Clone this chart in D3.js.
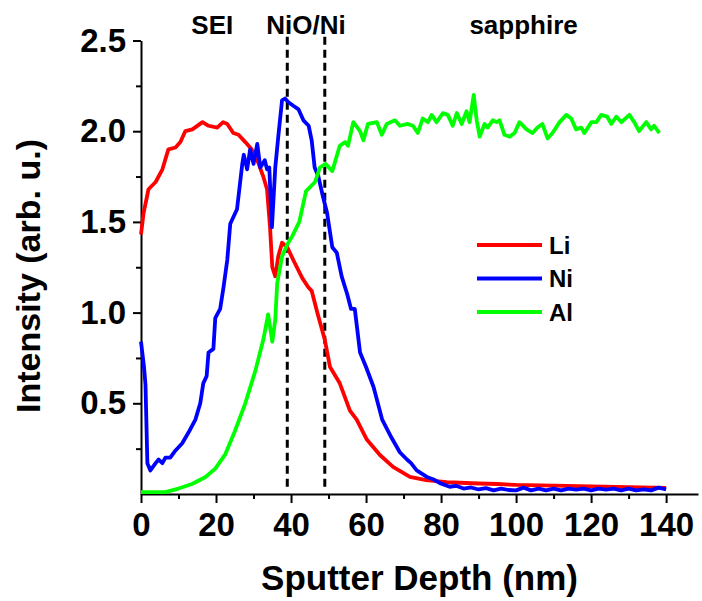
<!DOCTYPE html>
<html>
<head>
<meta charset="utf-8">
<script src="https://cdn.jsdelivr.net/npm/d3@7"></script>
<style>
  body { margin: 0; background: #fff; }
  svg { font-family: "Liberation Sans", Arial, sans-serif; font-weight: bold; }
  .axis text { font-size: 33px; font-weight: bold; fill: #000; }
  .axis path, .axis line { stroke: #000; stroke-width: 2; }
</style>
</head>
<body>
<div id="chart"></div>
<script>
// Li, Ni, Al depth profiles: [depth nm, intensity]
const liData = [[0,1.43],[0.7,1.55],[2,1.68],[3.9,1.72],[5.7,1.79],[7.3,1.9],[9.2,1.91],[10.5,1.94],[11.8,2.0],[13.7,2.01],[16.4,2.05],[18,2.03],[20.3,2.02],[21.9,2.05],[23,2.04],[24.6,1.99],[26,1.98],[27.8,1.94],[29.5,1.9],[31.2,1.83],[32.6,1.75],[33.6,1.68],[34.4,1.47],[35,1.25],[35.8,1.2],[36.6,1.31],[37.6,1.385],[39,1.36],[40.6,1.29],[43,1.19],[44.6,1.14],[45.5,1.12],[47,1.0],[49,0.85],[50.4,0.7],[53,0.61],[55.7,0.46],[57.5,0.41],[60.2,0.3],[63.7,0.215],[67.2,0.15],[71.7,0.094],[76,0.077],[81.5,0.066],[85,0.062],[90,0.058],[95,0.055],[100,0.05],[110,0.046],[120,0.042],[130,0.038],[140,0.034]];

const niData = [[0,0.84],[0.8,0.7],[1.2,0.6],[1.7,0.17],[2.5,0.13],[3.9,0.17],[4.7,0.19],[5.7,0.17],[6.5,0.2],[7.8,0.2],[9.2,0.24],[11,0.28],[12.7,0.34],[14.5,0.41],[15.8,0.5],[16.6,0.61],[17.5,0.65],[18,0.78],[19.3,0.8],[19.8,0.97],[21.1,1.02],[22,1.14],[23,1.29],[23.8,1.49],[25.6,1.57],[27,1.82],[27.4,1.87],[28.3,1.79],[29.1,1.9],[30,1.82],[31,1.93],[31.8,1.8],[33,1.84],[33.6,1.79],[34.2,1.8],[34.9,1.47],[35.8,1.8],[36.6,1.97],[37.6,2.17],[38.4,2.18],[39.3,2.16],[40.6,2.14],[42,2.12],[43.3,2.06],[44.7,2.03],[45.5,1.95],[46.3,1.8],[47.3,1.75],[48.5,1.64],[49.6,1.55],[51,1.36],[52.2,1.33],[53.5,1.2],[55,1.1],[56,1.02],[57,1.02],[58.4,0.78],[60,0.7],[62,0.59],[64.3,0.41],[66.8,0.31],[69,0.23],[70.9,0.19],[72,0.17],[73.5,0.13],[76.2,0.094],[78,0.08],[79.7,0.06],[82.3,0.04],[84,0.045],[86,0.03],[88,0.036],[90,0.025],[92,0.032],[94,0.02],[96,0.03],[98,0.022],[100,0.02],[102,0.035],[104,0.02],[106,0.03],[108,0.02],[110,0.03],[112,0.02],[114,0.03],[116,0.024],[118,0.03],[120,0.02],[122,0.03],[124,0.024],[126,0.03],[128,0.02],[130,0.03],[132,0.02],[134,0.026],[136,0.02],[138,0.035],[140,0.026]];

const alData = [[0,0.01],[6.5,0.01],[10,0.03],[13.6,0.055],[17.2,0.094],[19.8,0.14],[22.5,0.22],[25.1,0.35],[27.8,0.5],[30.5,0.68],[32.6,0.85],[33.9,0.99],[35,0.84],[35.8,0.96],[36.3,1.16],[37.6,1.31],[39.1,1.38],[40.3,1.42],[42.2,1.5],[44,1.67],[46.4,1.72],[47.7,1.8],[49.2,1.82],[51,1.78],[53,1.92],[54.4,1.94],[55.2,1.92],[56.6,2.05],[58.4,2.0],[59.3,1.95],[60.5,2.04],[62.9,2.05],[64.2,1.98],[65.5,2.04],[67.7,2.06],[69,2.03],[71.1,2.04],[72.5,2.03],[73.8,1.99],[75.1,2.07],[76.5,2.05],[77.5,2.09],[78.8,2.05],[80.5,2.1],[81.8,2.09],[83.1,2.03],[84.2,2.1],[85.5,2.04],[86.8,2.11],[87.6,2.05],[88.7,2.2],[89.5,2.06],[90.3,1.97],[91.6,2.04],[92.4,2.02],[93.8,2.06],[94.8,2.05],[95.6,2.06],[96.9,1.98],[98.3,1.97],[99.6,1.99],[100.9,2.05],[102.8,2.01],[104.4,1.99],[105.7,2.02],[107,2.04],[108.4,1.96],[109.7,1.99],[111.6,2.05],[113.4,2.09],[114.7,2.07],[116,2.01],[117.4,2.02],[118.2,1.99],[120.1,2.05],[121.4,2.05],[122.7,2.09],[124.3,2.08],[125.4,2.04],[126.7,2.08],[128.1,2.05],[130.2,2.09],[131.5,2.05],[132.8,2.0],[134.7,2.05],[136,2.01],[136.8,2.03],[138.2,1.99]];

const seriesNames = ["Li", "Ni", "Al"];
const seriesColors = ["#ff0000", "#0000ff", "#00ff00"];
const interfaces = [39, 49];
const regionLabels = [{ text: "SEI", x: 19 }, { text: "NiO/Ni", x: 44 }, { text: "sapphire", x: 102 }];
const xMajor = [0, 20, 40, 60, 80, 100, 120, 140];
const xMinor = [10, 30, 50, 70, 90, 110, 130];
const yMajor = [0.5, 1.0, 1.5, 2.0, 2.5];
const yMinor = [0.25, 0.75, 1.25, 1.75, 2.25];

const W = 702, H = 601;
const svg = d3.select("#chart").append("svg").attr("width", W).attr("height", H);

const x = d3.scaleLinear().domain([0, 148.5]).range([141, 698]);
const y = d3.scaleLinear().domain([0, 2.5]).range([494, 40.5]);

// Minor ticks
svg.append("g").attr("class", "axis")
  .attr("transform", `translate(0,${y(0)})`)
  .call(d3.axisBottom(x).tickValues(xMinor).tickSize(5).tickFormat(""))
  .call(g => g.select(".domain").remove());
svg.append("g").attr("class", "axis")
  .attr("transform", `translate(${x(0)},0)`)
  .call(d3.axisLeft(y).tickValues(yMinor).tickSize(5).tickFormat(""))
  .call(g => g.select(".domain").remove());

// Major axes
svg.append("g").attr("class", "axis")
  .attr("transform", `translate(0,${y(0)})`)
  .call(d3.axisBottom(x).tickValues(xMajor).tickSize(9).tickSizeOuter(0).tickPadding(10).tickFormat(d3.format("d")));
svg.append("g").attr("class", "axis")
  .attr("transform", `translate(${x(0)},0)`)
  .call(d3.axisLeft(y).tickValues(yMajor).tickSize(8).tickSizeOuter(0).tickPadding(7).tickFormat(d3.format(".1f")));

// Interface markers
svg.selectAll(".iface").data(interfaces).enter().append("line")
  .attr("x1", d => x(d)).attr("x2", d => x(d))
  .attr("y1", y(2.52)).attr("y2", y(0.03))
  .attr("stroke", "#000").attr("stroke-width", 3).attr("stroke-dasharray", "8,5");

// Curves
const line = d3.line().x(d => x(d[0])).y(d => y(d[1]));
[liData, niData, alData].forEach((data, i) => {
  svg.append("path").datum(data)
    .attr("fill", "none")
    .attr("stroke", seriesColors[i])
    .attr("stroke-width", 3.8)
    .attr("stroke-linejoin", "round")
    .attr("d", line);
});

// Region labels
svg.selectAll(".region").data(regionLabels).enter().append("text")
  .attr("x", d => x(d.x)).attr("y", 34)
  .attr("text-anchor", "middle")
  .attr("font-size", "26px")
  .text(d => d.text);

// Legend
const legend = svg.append("g");
seriesNames.forEach((name, i) => {
  const ly = 245 + i * 33.5;
  legend.append("line")
    .attr("x1", 477).attr("x2", 542).attr("y1", ly).attr("y2", ly)
    .attr("stroke", seriesColors[i]).attr("stroke-width", 4);
  legend.append("text")
    .attr("x", 549).attr("y", ly + 8.5)
    .attr("font-size", "24px")
    .text(name);
});

// Axis titles
svg.append("text")
  .attr("x", (x(0) + 698) / 2).attr("y", 590)
  .attr("text-anchor", "middle")
  .attr("font-size", "35px")
  .text("Sputter Depth (nm)");
svg.append("text")
  .attr("transform", `translate(40,276) rotate(-90)`)
  .attr("text-anchor", "middle")
  .attr("font-size", "34px")
  .text("Intensity (arb. u.)");
</script>
</body>
</html>
